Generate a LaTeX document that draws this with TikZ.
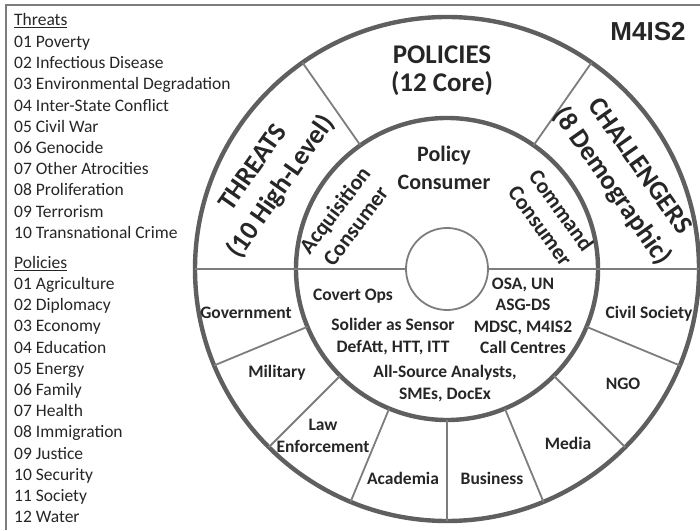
\documentclass[tikz,border=0pt]{standalone}
\usepackage{fontspec}
\setmainfont{Carlito}
\newfontfamily\arialfont{Liberation Sans}
\usepackage{tikz}

\definecolor{ringgray}{RGB}{95,95,95}
\definecolor{linegray}{RGB}{125,125,125}
\definecolor{txtgray}{RGB}{38,38,38}

\begin{document}
\begin{tikzpicture}[x=1pt,y=1pt,
  ring/.style={draw=ringgray,line width=4.4pt},
  divider/.style={draw=linegray,line width=1.8pt},
  listtxt/.style={text=txtgray,font=\fontsize{17.5}{21}\selectfont,anchor=base west,inner sep=0pt},
  lbl/.style={text=txtgray,font=\bfseries\fontsize{17.5}{21.5}\selectfont,align=center,inner sep=0pt},
  midlbl/.style={text=txtgray,font=\bfseries\fontsize{22}{26}\selectfont,align=center,inner sep=0pt},
  biglbl/.style={text=txtgray,font=\bfseries\fontsize{27}{34}\selectfont,align=center,inner sep=0pt}]
\useasboundingbox (0,0) rectangle (700,530);
%frame
\draw[linegray,line width=1.5pt] (6,0) -- (6,525) -- (700,525);
%list of threats
\node[listtxt] (thr) at (14,504.5) {\underline{Threats}};
\foreach \t [count=\i] in {01 Poverty,02 Infectious Disease,03 Environmental\ Degradation,
  04 Inter-State Conflict,05 Civil War,06 Genocide,07 Other Atrocities,
  08 Proliferation,09 Terrorism,10 Transnational Crime}
  \node[listtxt] (thr\i) at (14,{482.5-21.2*(\i-1)}) {\t};
%list of policies
\node[listtxt] (pol) at (14,261.5) {\underline{Policies}};
\foreach \t [count=\i] in {01 Agriculture,02 Diplomacy,03 Economy,04 Education,
  05 Energy,06 Family,07 Health,08 Immigration,09 Justice,10 Security,
  11 Society,12 Water}
  \node[listtxt] (pol\i) at (14,{240.5-21.2*(\i-1)}) {\t};
%rings
\coordinate (O) at (447,261);
\draw[ring] (O) circle (252pt);
\draw[ring] (O) circle (151pt);
\draw[divider] (O) circle (41pt);
%dividers
\begin{scope}[shift={(O)}]
\draw[divider] (180:252) -- (180:41);
\draw[divider] (0:41) -- (0:252);
\draw[divider] (125:151) -- (125:252);
\draw[divider] (55:151) -- (55:252);
\foreach \a in {202.5,225,...,337.5}
  \draw[divider] (\a:151) -- (\a:252);
\end{scope}
%title
\node[text=black!85,font=\arialfont\bfseries\fontsize{26}{30}\selectfont,inner sep=0pt] (m4is2) at (648,498) {M4IS2};
%upper half
\node[biglbl,font=\bfseries\fontsize{27}{28}\selectfont] (policies) at (442,459) {POLICIES\\(12 Core)};
\node[biglbl,rotate=55] (threats) at (268,352) {THREATS\\(10 High-Level)};
\node[biglbl,rotate=-55] (challengers) at (625,353) {CHALLENGERS\\(8 Demographic)};
\node[midlbl,font=\bfseries\fontsize{22}{28}\selectfont] (policyc) at (444,362.5) {Policy\\Consumer};
\node[midlbl,rotate=53] (acqc) at (345,312) {Acquisition\\Consumer};
\node[midlbl,rotate=-54] (cmdc) at (551,312) {Command\\Consumer};
%inner ring, lower half
\node[lbl] (covert) at (353,234) {Covert Ops};
\node[lbl] (soldier) at (393,193.5) {Solider as Sensor\\DefAtt, HTT, ITT};
\node[lbl] (osa) at (523,214) {OSA, UN\\ASG-DS\\MDSC, M4IS2\\Call Centres};
\node[lbl] (allsrc) at (445,146.5) {All-Source Analysts,\\SMEs, DocEx};
%outer ring, lower half
\node[lbl] (gov) at (246,217) {Government};
\node[lbl] (mil) at (277,157) {Military};
\node[lbl] (law) at (323,94) {Law\\Enforcement};
\node[lbl] (acad) at (403,52) {Academia};
\node[lbl] (bus) at (492,52) {Business};
\node[lbl] (media) at (568,87) {Media};
\node[lbl] (ngo) at (623,146) {NGO};
\node[lbl] (civil) at (649,216) {Civil Society};
\end{tikzpicture}
\end{document}
